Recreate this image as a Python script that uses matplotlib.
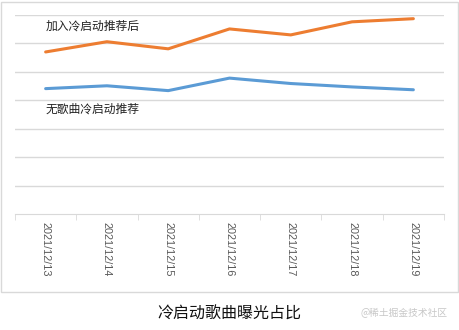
import numpy as np
import matplotlib.pyplot as plt
from matplotlib.patches import Rectangle

plt.rcParams['font.family'] = ['Noto Sans CJK SC', 'DejaVu Sans']

dates = ['2021/12/13', '2021/12/14', '2021/12/15', '2021/12/16',
         '2021/12/17', '2021/12/18', '2021/12/19']
with_cold = [5.70, 6.06, 5.81, 6.51, 6.30, 6.76, 6.87]
without_cold = [4.41, 4.51, 4.34, 4.78, 4.59, 4.47, 4.37]

fig = plt.figure(figsize=(4.59, 3.30), dpi=100)
W, H = 459, 330

# chart frame
fig.patches.append(Rectangle((1 / W, (H - 292) / H), 457 / W, 290 / H,
                             transform=fig.transFigure, fill=False,
                             edgecolor='#d9d9d9', linewidth=1))

ax = fig.add_axes([15 / W, (H - 214) / H, 429 / W, 199 / H])
x = np.arange(len(dates))
ax.plot(x, with_cold, color='#ED7D31', linewidth=2.2, solid_capstyle='round')
ax.plot(x, without_cold, color='#5B9BD5', linewidth=2.2, solid_capstyle='round')

ax.set_xlim(-0.5, len(dates) - 0.5)
ax.set_ylim(0, 7)
ax.set_yticks(np.arange(1, 8))
ax.yaxis.grid(True, color='#d9d9d9', linewidth=1)
ax.set_axisbelow(True)
ax.tick_params(axis='y', left=False, labelleft=False)
for s in ['top', 'right', 'left']:
    ax.spines[s].set_visible(False)
ax.spines['bottom'].set_color('#d9d9d9')

ax.set_xticks(x)
ax.set_xticklabels(dates, rotation=270, fontsize=7.8, color='#595959',
                   family='Liberation Sans')
ax.tick_params(axis='x', length=0, pad=6)
ax.set_xticks(np.arange(-0.5, len(dates)), minor=True)
ax.tick_params(axis='x', which='minor', length=4, color='#d9d9d9')

ax.text(0, 6.6, '加入冷启动推荐后', fontsize=8.5, ha='left', va='center', color='#222222')
ax.text(0, 3.7, '无歌曲冷启动推荐', fontsize=8.5, ha='left', va='center', color='#222222')

fig.text(229 / W, (H - 314) / H, '冷启动歌曲曝光占比', fontsize=11.5,
         ha='center', va='center', color='#111111')
fig.text(448 / W, (H - 313) / H, '@稀土掘金技术社区', fontsize=7,
         ha='right', va='center', color='#c8c8c8')

fig.savefig('out.png', dpi=100)
